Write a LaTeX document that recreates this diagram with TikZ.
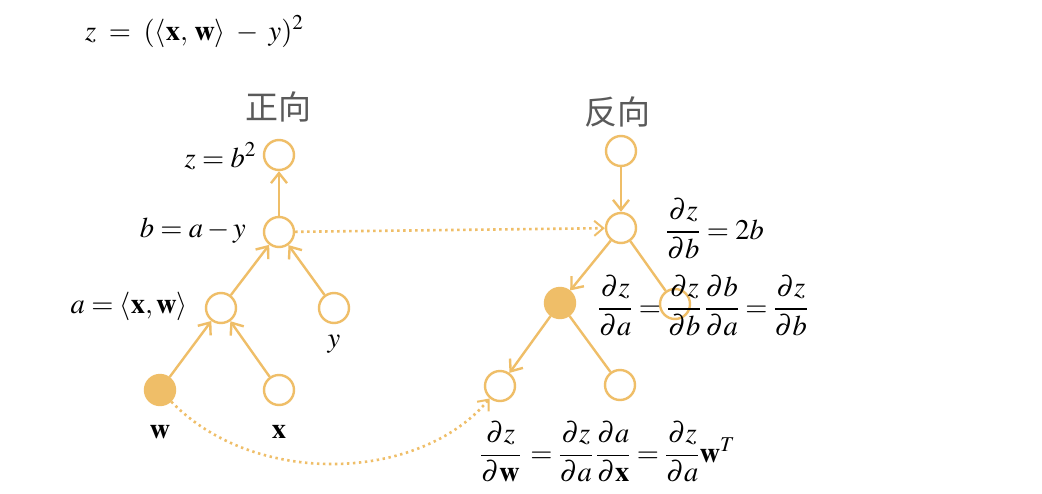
\documentclass[tikz,border=0pt]{standalone}
\usepackage{amsmath}
\usepackage{mathptmx}
\usepackage[no-math]{fontspec}
\newfontfamily\cjk{Noto Sans CJK SC}
\usetikzlibrary{arrows.meta}
\definecolor{org}{RGB}{239,190,104}
\definecolor{cjkgray}{RGB}{90,90,90}
\begin{document}
\begin{tikzpicture}[x=1pt,y=-1pt,
  nd/.style={circle,draw=org,line width=2.4pt,minimum size=30pt,inner sep=0pt},
  fnd/.style={nd,fill=org},
  edge/.style={draw=org,line width=2.4pt},
  arr/.style={edge,-{Straight Barb[length=10pt,width=16pt]}},
  dotarr/.style={draw=org,line width=2.6pt,dash pattern=on 2.4pt off 3.6pt,-{Straight Barb[length=9pt,width=15pt,line width=2pt]}},
  lbl/.style={inner sep=0pt,font=\fontsize{28.5}{34}\selectfont},
  cjkl/.style={inner sep=0pt,text=cjkgray,font=\cjk\fontsize{33}{40}\selectfont}]
\useasboundingbox (0,0) rectangle (1042,493);
\fill[white] (0,0) rectangle (1042,493);
% title formula and headings
\node[lbl,anchor=base west] (eq) at (85,40) {$z \;=\;(\langle\mathbf{x},\,\mathbf{w}\rangle \;-\; y)^2$};
\node[cjkl] (fw) at (278,107) {正向};
\node[cjkl] (bw) at (617,112) {反向};
% forward tree
\node[nd] (z) at (279,155) {};
\node[nd] (b) at (279,232) {};
\node[nd] (a) at (221,308) {};
\node[nd] (y) at (334,308) {};
\node[fnd] (w) at (160,390) {};
\node[nd] (x) at (279,390) {};
\node[lbl,anchor=base east] (lz) at (256,167) {$z = b^2$};
\node[lbl,anchor=base east] (lb) at (246,237) {$b = a - y$};
\node[lbl,anchor=base east] (la) at (188,313) {$a = \langle\mathbf{x},\mathbf{w}\rangle$};
\node[lbl,anchor=base] (ly) at (334,347) {$y$};
\node[lbl,anchor=base] (lw) at (160,438) {$\mathbf{w}$};
\node[lbl,anchor=base] (lx) at (279,438) {$\mathbf{x}$};
\draw[arr] (b) -- (z);
\draw[arr] (a) -- (b);
\draw[arr] (y) -- (b);
\draw[arr] (w) -- (a);
\draw[arr] (x) -- (a);
% backward tree
\node[nd] (t2) at (621,151) {};
\node[nd] (b2) at (621,228) {};
\node[fnd] (a2) at (560,303) {};
\node[nd] (y2) at (675,304) {};
\node[nd] (w2) at (500,386) {};
\node[nd] (x2) at (620,385) {};
\draw[arr] (t2) -- (b2);
\draw[arr] (b2) -- (a2);
\draw[edge] (b2) -- (y2);
\draw[arr] (a2) -- (w2);
\draw[edge] (a2) -- (x2);
% links
\draw[dotarr] (b) -- (b2);
\draw[dotarr] (w) .. controls (255,488) and (420,482) .. (w2);
% gradient formulas
\node[lbl,anchor=west] (gb) at (666,229) {$\dfrac{\partial z}{\partial b} = 2b$};
\node[lbl,anchor=west] (ga) at (598,306) {$\dfrac{\partial z}{\partial a} = \dfrac{\partial z}{\partial b}\,\dfrac{\partial b}{\partial a} = \dfrac{\partial z}{\partial b}$};
\node[lbl,anchor=west] (gw) at (480,452) {$\dfrac{\partial z}{\partial\mathbf{w}}\, = \dfrac{\partial z}{\partial a}\,\dfrac{\partial a}{\partial\mathbf{x}} = \dfrac{\partial z}{\partial a}\mathbf{w}^T$};
\end{tikzpicture}
\end{document}
